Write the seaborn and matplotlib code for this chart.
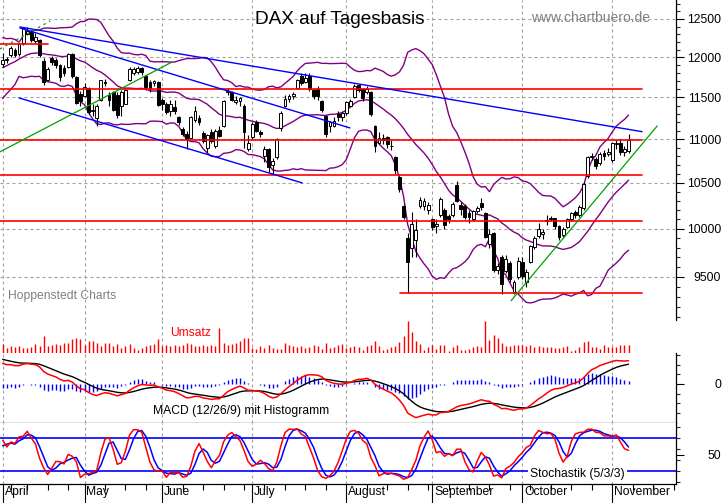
import numpy as np
import pandas as pd
import matplotlib
matplotlib.use("Agg")
import matplotlib.pyplot as plt
import matplotlib.transforms as mtrans
from matplotlib.ticker import FixedLocator, NullFormatter
import seaborn as sns

# DAX daily candles, 1 Apr - 6 Nov 2015
opens = [11910, 11960, 12030, 12100, 12040, 12180, 12300, 12330, 12210, 12230,
         11950, 11720, 11990, 11960, 11900, 11860, 11880, 12040, 11750, 11540,
         11520, 11610, 11340, 11250, 11470, 11690, 11530, 11560, 11530, 11400,
         11420, 11715, 11800, 11820, 11860, 11760, 11690, 11680, 11690, 11470,
         11420, 11330, 11380, 11260, 11120, 11060, 11010, 11230, 11250, 11070,
         10900, 11080, 10920, 11110, 11150, 11560, 11560, 11440, 11450, 11400,
         10880, 11020, 11200, 11080, 10800, 10880, 10700, 10790, 11130, 11400,
         11480, 11520, 11610, 11760, 11690, 11770, 11590, 11600, 11450, 11270,
         11150, 11160, 11300, 11260, 11310, 11400, 11500, 11650, 11600, 11560,
         11560, 11150, 10950, 11010, 11020, 10920, 10790, 10570, 10250, 9900,
         9800, 9880, 10250, 10250, 10200, 10100, 10030, 10150, 10200, 10140,
         10150, 10480, 10260, 10250, 10170, 10100, 10190, 10280, 10170, 9840,
         9960, 9570, 9700, 9560, 9640, 9350, 9500, 9650, 9450, 9650,
         9810, 9920, 9940, 10080, 10100, 10110, 10030, 9930, 10020, 10100,
         10180, 10150, 10220, 10580, 10790, 10770, 10720, 10840, 10830, 10760,
         10940, 10960, 10850, 10860]
highs = [12060, 12010, 12140, 12120, 12180, 12390, 12390, 12350, 12320, 12240,
         11990, 11880, 12020, 11990, 11920, 11900, 12060, 12060, 11770, 11580,
         11680, 11630, 11420, 11420, 11720, 11730, 11560, 11580, 11560, 11590,
         11600, 11880, 11880, 11890, 11880, 11780, 11720, 11720, 11700, 11490,
         11440, 11470, 11470, 11280, 11140, 11100, 11280, 11400, 11290, 11090,
         11060, 11120, 11120, 11150, 11470, 11620, 11580, 11520, 11510, 11420,
         11050, 11200, 11230, 11110, 10920, 10900, 10780, 11010, 11330, 11530,
         11540, 11570, 11730, 11800, 11800, 11800, 11620, 11640, 11470, 11290,
         11220, 11260, 11340, 11340, 11460, 11480, 11660, 11670, 11620, 11640,
         11580, 11170, 11080, 11060, 11040, 10990, 10800, 10580, 10270, 9960,
         10180, 10100, 10340, 10330, 10290, 10120, 10100, 10340, 10220, 10160,
         10290, 10520, 10290, 10270, 10200, 10200, 10250, 10330, 10180, 10000,
         9970, 9640, 9720, 9720, 9660, 9470, 9700, 9700, 9580, 9830,
         9920, 10060, 10000, 10150, 10140, 10120, 10040, 10020, 10120, 10180,
         10200, 10260, 10510, 10800, 10840, 10790, 10850, 10870, 10900, 10970,
         10990, 11000, 10920, 11060]
lows = [11880, 11930, 12000, 12000, 12020, 12160, 12290, 12200, 12180, 12000,
        11650, 11700, 11900, 11870, 11700, 11760, 11860, 11740, 11420, 11400,
        11500, 11300, 11270, 11150, 11450, 11640, 11400, 11330, 11250, 11280,
        11460, 11700, 11780, 11790, 11780, 11590, 11570, 11640, 11390, 11350,
        11300, 11280, 11300, 11170, 11040, 10890, 11000, 11200, 11170, 10960,
        10840, 10950, 10900, 11020, 11140, 11530, 11450, 11420, 11400, 10900,
        10860, 11000, 11080, 11020, 10740, 10620, 10600, 10770, 11100, 11380,
        11440, 11480, 11600, 11650, 11680, 11580, 11480, 11470, 11320, 11030,
        11080, 11140, 11220, 11220, 11290, 11380, 11490, 11560, 11460, 11540,
        11270, 10850, 10940, 10940, 10900, 10870, 10600, 10400, 10100, 9338,
        9700, 9700, 10220, 10200, 10160, 9990, 9950, 10130, 10000, 10060,
        10130, 10290, 10150, 10100, 10060, 10080, 10170, 10200, 9900, 9800,
        9550, 9530, 9330, 9540, 9450, 9330, 9480, 9480, 9400, 9640,
        9790, 9900, 9890, 10040, 10080, 10000, 9880, 9900, 10010, 10080,
        10110, 10130, 10200, 10560, 10760, 10660, 10700, 10760, 10800, 10740,
        10880, 10820, 10800, 10840]
closes = [11968, 11975, 12123, 12035, 12166, 12375, 12338, 12227, 12260, 12036,
          11689, 11850, 11940, 11900, 11750, 11800, 12040, 11760, 11432, 11454,
          11630, 11327, 11350, 11400, 11709, 11675, 11472, 11351, 11290, 11560,
          11590, 11853, 11850, 11865, 11815, 11625, 11620, 11700, 11413, 11420,
          11327, 11420, 11340, 11197, 11064, 11001, 11265, 11332, 11197, 10984,
          11044, 10978, 11101, 11040, 11460, 11580, 11470, 11473, 11492, 11083,
          10960, 11180, 11099, 11058, 10890, 10676, 10747, 10997, 11315, 11485,
          11517, 11540, 11716, 11673, 11735, 11604, 11520, 11512, 11347, 11056,
          11199, 11212, 11257, 11309, 11444, 11456, 11636, 11585, 11490, 11604,
          11293, 10925, 11015, 10985, 10940, 10915, 10645, 10432, 10124, 9648,
          10050, 9990, 10315, 10298, 10259, 10016, 10048, 10318, 10038, 10108,
          10271, 10303, 10210, 10123, 10131, 10188, 10227, 10229, 9916, 9948,
          9570, 9612, 9427, 9688, 9483, 9450, 9660, 9509, 9553, 9814,
          9902, 9994, 9970, 10096, 10119, 10033, 9915, 9995, 10104, 10165,
          10147, 10238, 10492, 10795, 10801, 10692, 10832, 10800, 10850, 10950,
          10951, 10845, 10887, 10988]
# turnover, relative bar heights
volume = [9, 5, 7, 6, 7, 5, 5, 6, 9, 7, 17, 7, 8, 9, 8, 10, 10, 14, 15, 14,
          8, 12, 12, 10, 7, 10, 10, 7, 9, 5, 7, 9, 5, 3, 5, 7, 8, 9, 14,
          7, 8, 7, 8, 7, 8, 10, 9, 7, 7, 8, 7, 8, 7, 25, 10, 8, 9, 10, 12, 15, 15,
          5, 4, 7, 5, 8, 5, 4, 4, 10, 8, 7, 6, 7, 5, 6, 8, 7, 4, 10, 5, 6, 8, 9,
          5, 6, 7, 6, 3, 7, 8, 12, 7, 3, 4, 6, 7, 11, 17, 32, 21, 12, 9, 3, 6,
          8, 4, 8, 8, 2, 6, 8, 3, 3, 4, 6, 7, 6, 32, 13, 18, 15, 10, 7, 7, 8, 8,
          8, 7, 8, 6, 7, 6, 6, 6, 5, 5, 6, 7, 2, 3, 6, 11, 12, 6, 6, 4, 8, 6,
          6, 6, 8, 8, 8]

# last 19 March sessions, only to warm up the bands and the stochastic
pre_high = [11540, 11600, 11640, 11590, 11810, 11850, 11920, 12220, 12120, 11990,
            12050, 12150, 12130, 12060, 11980, 11900, 11900, 12100, 12080]
pre_low = [11390, 11470, 11480, 11420, 11560, 11700, 11760, 11960, 11930, 11840,
           11880, 11980, 11960, 11920, 11800, 11700, 11790, 11880, 11940]
pre_close = [11504, 11551, 11582, 11500, 11806, 11799, 11901, 12167, 11980, 11922,
             12036, 12040, 12040, 11996, 11847, 11843, 11868, 12086, 11966]
# EMA state on 31 Mar for MACD (12/26/9)
ema_fast0, ema_slow0, signal0 = 11930, 11700, 270

months = ["April", "May", "June", "July", "August", "September", "October", "November"]
holidays = ["2015-04-03", "2015-04-06", "2015-05-01", "2015-05-25"]

# support / resistance: (level, from day, to day)
levels = [(12176, -0.7, 11.1), (11609, -0.7, 156.3), (10990, -0.7, 156.3),
          (10585, -0.7, 156.3), (10080, -0.7, 156.3), (9338, 97.1, 156.3)]
# trend lines: (day0, price0, day1, price1)
blue_trends = [(4.2, 12394, 156.3, 11088), (4.2, 12381, 84.9, 11132), (4.0, 11493, 73.2, 10500)]
green_trends = [(-0.7, 10852, 41.4, 11941), (124.3, 9264, 160.0, 11155)]
green_dotted = [(-0.7, 12107, 11.6, 12473)]

# ---------------------------------------------------------------------------
dates = pd.bdate_range("2015-04-01", "2015-11-06").drop(pd.to_datetime(holidays))
day = np.arange(len(dates))
month_start = [day[dates.month == m][0] for m in range(4, 12)]
wk = dates.isocalendar().week.values
week_start = [d for d in day if d == 0 or wk[d] != wk[d - 1]][1:]
XMIN, XMAX = -0.66, 164.6
while week_start[-1] + 5 < XMAX:
    week_start.append(week_start[-1] + 5)

c_all = pd.Series(pre_close + closes, dtype=float)
h_all = pd.Series(pre_high + highs, dtype=float)
l_all = pd.Series(pre_low + lows, dtype=float)
n0 = len(pre_close)
mid = c_all.rolling(20).mean()
sd = c_all.rolling(20).std(ddof=0)
bb_up = (mid + 2 * sd).values[n0:]
bb_lo = (mid - 2 * sd).values[n0:]
bb_mid = mid.values[n0:]

hh = h_all.rolling(5).max()
ll = l_all.rolling(5).min()
fast_k = 100 * (c_all - ll) / (hh - ll)
slow_k = fast_k.rolling(3).mean()
slow_d = slow_k.rolling(3).mean()
stoch_k = slow_k.values[n0:]
stoch_d = slow_d.values[n0:]


def ema(values, start, n):
    a = 2.0 / (n + 1)
    out, e = [], start
    for v in values:
        e = e + a * (v - e)
        out.append(e)
    return np.array(out)


macd = ema(closes, ema_fast0, 12) - ema(closes, ema_slow0, 26)
signal = ema(macd, signal0, 9)
hist = macd - signal

# ---------------------------------------------------------------------------
sns.set_style("white")
plt.rcParams["font.family"] = ["Liberation Sans", "DejaVu Sans"]
FS = 8.7
GRID = "#a0a0a0"
PURPLE = "#800080"
W, H = 723, 503

fig = plt.figure(figsize=(W / 100, H / 100), dpi=100)


def panel(top, bottom):
    return fig.add_axes([0, 1 - bottom / H, 676 / W, (bottom - top) / H])


ax_p = panel(0, 320)
ax_v = panel(320, 353)
ax_m = panel(353, 423)
ax_s = panel(423, 484)

for ax in (ax_p, ax_v, ax_m, ax_s):
    ax.set_xlim(XMIN, XMAX)
    ax.set_facecolor("white")
    for s in ax.spines.values():
        s.set_visible(False)
    for m in month_start:
        ax.axvline(m, color=GRID, lw=0.8, ls=(0, (2.7, 2.7)), zorder=0)
    ax.tick_params(axis="x", which="both", bottom=False, labelbottom=False)

# --- price panel
ax_p.set_yscale("log")
ax_p.set_ylim(9075, 12755)
for lv in range(9500, 13000, 500):
    ax_p.axhline(lv, color=GRID, lw=0.8, ls=(0, (2.7, 2.7)), zorder=0)

sns.lineplot(x=day, y=bb_up, ax=ax_p, color=PURPLE, lw=1.0, errorbar=None, zorder=2)
sns.lineplot(x=day, y=bb_mid, ax=ax_p, color=PURPLE, lw=1.0, errorbar=None, zorder=2)
sns.lineplot(x=day, y=bb_lo, ax=ax_p, color=PURPLE, lw=1.0, errorbar=None, zorder=2)

o = np.array(opens, float)
c = np.array(closes, float)
up = c >= o
ax_p.vlines(day, lows, highs, color="black", lw=0.8, zorder=3)
ax_p.bar(day, np.abs(c - o), bottom=np.minimum(o, c), width=0.7,
         color=np.where(up, "white", "black"), edgecolor="black", linewidth=0.7, zorder=4)

for lv, d0, d1 in levels:
    ax_p.plot([d0, d1], [lv, lv], color="#ff0000", lw=1.2, zorder=5)
for d0, p0, d1, p1 in blue_trends:
    ax_p.plot([d0, d1], [p0, p1], color="#0000ff", lw=1.0, zorder=5)
for d0, p0, d1, p1 in green_trends:
    ax_p.plot([d0, d1], [p0, p1], color="#00a000", lw=0.9, zorder=5)
for d0, p0, d1, p1 in green_dotted:
    ax_p.plot([d0, d1], [p0, p1], color="#00a000", lw=0.9, ls=(0, (2, 3)), zorder=5)

ax_p.spines["right"].set_visible(True)
ax_p.yaxis.tick_right()
ax_p.yaxis.set_major_locator(FixedLocator(list(range(9500, 13000, 500))))
ax_p.set_yticklabels([str(v) for v in range(9500, 13000, 500)])
ax_p.yaxis.set_minor_locator(FixedLocator(list(range(9100, 12800, 100))))
ax_p.yaxis.set_minor_formatter(NullFormatter())

# --- volume panel
ax_v.vlines(day, 0, volume, color="#ff0000", lw=1.0)
ax_v.set_ylim(0, 33)
ax_v.set_yticks([])

# --- MACD panel
k = 10.5
ax_m.set_ylim(-39 * k, 31 * k)
ax_m.vlines(day, 0, hist, color="#0000ff", lw=1.0, zorder=2)
sns.lineplot(x=day, y=signal, ax=ax_m, color="black", lw=1.0, errorbar=None, zorder=3)
sns.lineplot(x=day, y=macd, ax=ax_m, color="#ff0000", lw=1.1, errorbar=None, zorder=3)
ax_m.spines["right"].set_visible(True)
ax_m.spines["bottom"].set_visible(True)
ax_m.yaxis.tick_right()
ax_m.yaxis.set_major_locator(FixedLocator([0]))
ax_m.set_yticklabels(["0"])
ax_m.yaxis.set_minor_locator(FixedLocator([-300, -200, -100, 100, 200, 300]))
ax_m.yaxis.set_minor_formatter(NullFormatter())

# --- stochastic panel
ax_s.set_ylim(-3, 108)
ax_s.axhline(80, color="#0000ff", lw=1.2, zorder=2)
ax_s.axhline(20, color="#0000ff", lw=1.2, zorder=2)
sns.lineplot(x=day, y=stoch_d, ax=ax_s, color="#0000ff", lw=1.1, errorbar=None, zorder=3)
sns.lineplot(x=day, y=stoch_k, ax=ax_s, color="#ff0000", lw=1.1, errorbar=None, zorder=3)
ax_s.spines["right"].set_visible(True)
ax_s.spines["bottom"].set_visible(True)
ax_s.yaxis.tick_right()
ax_s.yaxis.set_major_locator(FixedLocator([50]))
ax_s.set_yticklabels(["50"])
ax_s.yaxis.set_minor_locator(FixedLocator([0, 20, 40, 60, 80, 100]))
ax_s.yaxis.set_minor_formatter(NullFormatter())

ax_s.xaxis.set_major_locator(FixedLocator(month_start))
ax_s.xaxis.set_minor_locator(FixedLocator(week_start))
ax_s.tick_params(axis="x", which="major", bottom=True, length=13.7, width=0.8,
                 direction="out", color="black", labelbottom=False)
ax_s.tick_params(axis="x", which="minor", bottom=True, length=4.3, width=0.8,
                 direction="out", color="black")
trans = mtrans.blended_transform_factory(ax_s.transData, ax_s.transAxes)
for name, m in zip(months, month_start):
    ax_s.text(m + 0.45, -0.03, name, transform=trans, ha="left", va="top",
              fontsize=FS, color="black")

for ax in (ax_p, ax_m, ax_s):
    for s in ("right", "bottom"):
        ax.spines[s].set_color("black")
        ax.spines[s].set_linewidth(0.9)
    ax.tick_params(axis="y", which="major", length=6, width=0.8, pad=26.4,
                   labelsize=FS, colors="black", right=True, left=False)
    ax.tick_params(axis="y", which="minor", length=3, width=0.8, right=True, left=False)
    for t in ax.get_yticklabels():
        t.set_horizontalalignment("right")
    ax.set_xlabel("")
    ax.set_ylabel("")
ax_v.set_ylabel("")
ax_v.set_xlabel("")

# --- texts
fig.text(340 / W, 1 - 19 / H, "DAX auf Tagesbasis", ha="center", va="center",
         fontsize=13.7, color="black")
fig.text(531 / W, 1 - 18 / H, "www.chartbuero.de", ha="left", va="center",
         fontsize=10, color="#808080")
fig.text(8 / W, 1 - 296 / H, "Hoppenstedt Charts", ha="left", va="center",
         fontsize=FS, color="#808080")
fig.text(170 / W, 1 - 333 / H, "Umsatz", ha="left", va="center",
         fontsize=FS, color="#ff0000")
fig.text(153 / W, 1 - 411 / H, "MACD (12/26/9) mit Histogramm", ha="left", va="center",
         fontsize=FS, color="black")
fig.text(530 / W, 1 - 474 / H, "Stochastik (5/3/3)", ha="left", va="center",
         fontsize=FS, color="black", zorder=10,
         bbox=dict(facecolor="white", edgecolor="none", pad=1.5))

fig.savefig("out.png", dpi=100, facecolor="white")
